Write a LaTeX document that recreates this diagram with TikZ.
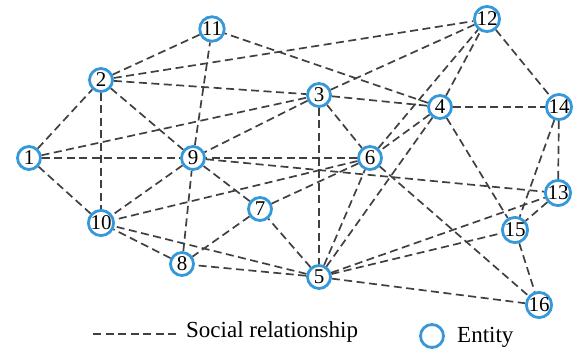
\documentclass[tikz,border=0pt]{standalone}
\usepackage{fontspec}
\setmainfont{Liberation Serif}
\usepackage{tikz}
\definecolor{entblue}{RGB}{52,152,219}
\definecolor{relgray}{RGB}{64,64,64}

\begin{document}
\begin{tikzpicture}[x=1pt, y=-1pt,
    ent/.style={circle, draw=entblue, line width=2.8pt, fill=white, minimum size=23pt, inner sep=0pt, font=\fontsize{21}{21}\selectfont},
    rel/.style={draw=relgray, line width=1.7pt, dash pattern=on 8pt off 4.5pt},
    lbl/.style={font=\fontsize{23}{23}\selectfont, anchor=west, inner sep=0pt}]
            \useasboundingbox (0,0) rectangle (574,352);
            \node[ent] (n1) at (29,158) {1};
            \node[ent] (n2) at (101,80) {2};
            \node[ent] (n3) at (319,95) {3};
            \node[ent] (n4) at (440,107) {4};
            \node[ent] (n5) at (319,277) {5};
            \node[ent] (n6) at (370,158) {6};
            \node[ent] (n7) at (260,209) {7};
            \node[ent] (n8) at (182,264) {8};
            \node[ent] (n9) at (193,158) {9};
            \node[ent] (n10) at (101,223) {10};
            \node[ent] (n11) at (212,29) {11};
            \node[ent] (n12) at (487,19) {12};
            \node[ent] (n13) at (558,193) {13};
            \node[ent] (n14) at (559,107) {14};
            \node[ent] (n15) at (515,230) {15};
            \node[ent] (n16) at (539,305) {16};

            \draw[rel] (n1) -- (n2);
            \draw[rel] (n1) -- (n3);
            \draw[rel] (n1) -- (n9);
            \draw[rel] (n1) -- (n10);
            \draw[rel] (n2) -- (n11);
            \draw[rel] (n2) -- (n12);
            \draw[rel] (n2) -- (n3);
            \draw[rel] (n2) -- (n9);
            \draw[rel] (n2) -- (n10);
            \draw[rel] (n3) -- (n9);
            \draw[rel] (n3) -- (n12);
            \draw[rel] (n3) -- (n4);
            \draw[rel] (n3) -- (n6);
            \draw[rel] (n3) -- (n5);
            \draw[rel] (n4) -- (n11);
            \draw[rel] (n4) -- (n12);
            \draw[rel] (n4) -- (n14);
            \draw[rel] (n4) -- (n6);
            \draw[rel] (n4) -- (n5);
            \draw[rel] (n4) -- (n15);
            \draw[rel] (n5) -- (n6);
            \draw[rel] (n5) -- (n7);
            \draw[rel] (n5) -- (n10);
            \draw[rel] (n5) -- (n8);
            \draw[rel] (n5) -- (n16);
            \draw[rel] (n5) -- (n13);
            \draw[rel] (n5) -- (n15);
            \draw[rel] (n6) -- (n9);
            \draw[rel] (n6) -- (n10);
            \draw[rel] (n6) -- (n7);
            \draw[rel] (n6) -- (n16);
            \draw[rel] (n6) -- (n12);
            \draw[rel] (n7) -- (n9);
            \draw[rel] (n7) -- (n8);
            \draw[rel] (n8) -- (n9);
            \draw[rel] (n8) -- (n10);
            \draw[rel] (n9) -- (n11);
            \draw[rel] (n9) -- (n13);
            \draw[rel] (n9) -- (n10);
            \draw[rel] (n12) -- (n14);
            \draw[rel] (n13) -- (n14);
            \draw[rel] (n13) -- (n15);
            \draw[rel] (n14) -- (n15);
            \draw[rel] (n15) -- (n16);

            % legend
            \coordinate (relA) at (93,334);
            \coordinate (relB) at (177,334);
            \draw[rel] (relA) -- (relB);
            \node[lbl] (relText) at (186,332) {Social relationship};
            \node[ent] (entKey) at (432,336) {};
            \node[lbl] (entText) at (457,337) {Entity};
        \end{tikzpicture}
\end{document}
